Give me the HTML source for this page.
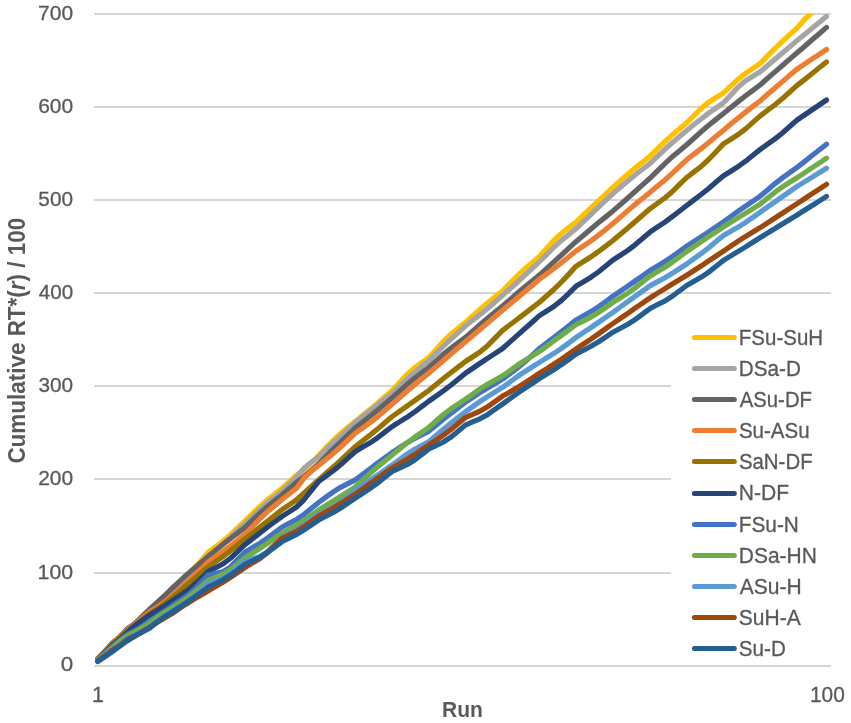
<!DOCTYPE html><html><head><meta charset="utf-8"><style>
html,body{margin:0;padding:0;background:#fff;overflow:hidden;}
svg{display:block;filter:blur(0.35px);}
text{font-family:"Liberation Sans",sans-serif;fill:#595959;}
.r{stroke:#595959;stroke-width:0.3px;}
</style></head><body>
<svg width="851" height="723" viewBox="0 0 851 723">
<defs><clipPath id="pc"><rect x="90" y="13.6" width="745" height="660"/></clipPath></defs>

<line x1="94" x2="831" y1="666" y2="666" stroke="#D6D6D6" stroke-width="2"/>
<line x1="94" x2="831" y1="573" y2="573" stroke="#D6D6D6" stroke-width="2"/>
<line x1="94" x2="831" y1="479" y2="479" stroke="#D6D6D6" stroke-width="2"/>
<line x1="94" x2="831" y1="386" y2="386" stroke="#D6D6D6" stroke-width="2"/>
<line x1="94" x2="831" y1="293" y2="293" stroke="#D6D6D6" stroke-width="2"/>
<line x1="94" x2="831" y1="200" y2="200" stroke="#D6D6D6" stroke-width="2"/>
<line x1="94" x2="831" y1="107" y2="107" stroke="#D6D6D6" stroke-width="2"/>
<line x1="94" x2="831" y1="14" y2="14" stroke="#D6D6D6" stroke-width="2"/>
<text x="60.70" y="671.09" font-size="20.92" class="r" textLength="12.46" lengthAdjust="spacingAndGlyphs">0</text>
<text x="37.60" y="578.89" font-size="20.92" class="r" textLength="35.52" lengthAdjust="spacingAndGlyphs">100</text>
<text x="38.15" y="484.89" font-size="20.92" class="r" textLength="34.95" lengthAdjust="spacingAndGlyphs">200</text>
<text x="38.42" y="391.89" font-size="20.92" class="r" textLength="34.68" lengthAdjust="spacingAndGlyphs">300</text>
<text x="38.74" y="298.89" font-size="20.92" class="r" textLength="34.36" lengthAdjust="spacingAndGlyphs">400</text>
<text x="38.37" y="205.89" font-size="20.92" class="r" textLength="34.73" lengthAdjust="spacingAndGlyphs">500</text>
<text x="38.15" y="112.89" font-size="20.92" class="r" textLength="34.95" lengthAdjust="spacingAndGlyphs">600</text>
<text x="38.10" y="19.89" font-size="20.92" class="r" textLength="35.01" lengthAdjust="spacingAndGlyphs">700</text>
<text x="92.09" y="701.59" font-size="21.20" class="r" textLength="11.96" lengthAdjust="spacingAndGlyphs">1</text>
<text x="809.93" y="701.79" font-size="21.20" class="r" textLength="34.87" lengthAdjust="spacingAndGlyphs">100</text>
<text x="441.98" y="716.80" font-size="22.55" font-weight="bold" textLength="40.81" lengthAdjust="spacingAndGlyphs">Run</text>
<g transform="translate(25.40,462.7) rotate(-90)"><text x="-0.90" y="0" font-size="23.85" font-weight="bold" textLength="245.80" lengthAdjust="spacingAndGlyphs">Cumulative RT*(<tspan font-style="italic">r</tspan>) / 100</text></g>
<g clip-path="url(#pc)" fill="none" stroke-width="5.2" stroke-linejoin="round" stroke-linecap="round">
<polyline stroke="#FFC000" points="97.7,659.0 105.1,651.5 112.4,644.0 119.8,637.5 127.1,630.5 134.5,624.5 141.9,617.8 149.2,611.0 156.6,604.5 164.0,598.2 171.3,592.0 178.7,584.8 186.0,577.6 193.4,569.7 200.8,561.0 208.1,552.3 215.5,546.8 222.9,541.3 230.2,535.0 237.6,528.0 244.9,521.0 252.3,513.8 259.7,506.6 267.0,500.1 274.4,494.4 281.8,488.6 289.1,482.0 296.5,475.3 303.8,469.7 311.2,462.8 318.6,455.5 325.9,447.9 333.3,440.3 340.6,433.4 348.0,427.3 355.4,421.2 362.7,415.3 370.1,409.4 377.5,403.2 384.8,396.8 392.2,390.4 399.5,382.5 406.9,374.6 414.3,368.0 421.6,362.7 429.0,357.5 436.4,349.3 443.7,341.1 451.1,334.0 458.4,328.1 465.8,322.1 473.2,315.5 480.5,308.9 487.9,302.7 495.2,296.8 502.6,290.9 510.0,283.4 517.3,275.9 524.7,269.0 532.1,262.7 539.4,256.4 546.8,248.3 554.1,240.2 561.5,233.3 568.9,227.6 576.2,222.0 583.6,215.0 591.0,208.0 598.3,201.1 605.7,194.2 613.0,187.3 620.4,180.8 627.8,174.3 635.1,168.1 642.5,162.2 649.9,156.3 657.2,149.1 664.6,142.0 671.9,135.3 679.3,129.0 686.7,122.8 694.0,115.5 701.4,108.2 708.7,102.2 716.1,97.5 723.5,92.9 730.8,86.1 738.2,79.2 745.6,73.3 752.9,68.4 760.3,63.4 767.6,55.9 775.0,48.4 782.4,41.4 789.7,34.7 797.1,28.0 804.5,19.5 811.8,12.5 819.2,6.0 826.5,0.0"/>
<polyline stroke="#A5A5A5" points="97.7,659.0 105.1,651.5 112.4,643.5 119.8,637.2 127.1,630.0 134.5,624.5 141.9,617.5 149.2,610.5 156.6,604.0 164.0,597.7 171.3,591.5 178.7,584.5 186.0,577.5 193.4,570.4 200.8,563.2 208.1,556.0 215.5,550.0 222.9,544.0 230.2,537.6 237.6,530.8 244.9,524.0 252.3,516.8 259.7,509.6 267.0,503.1 274.4,497.3 281.8,491.5 289.1,484.3 296.5,477.1 303.8,468.4 311.2,462.3 318.6,457.0 325.9,450.0 333.3,443.0 340.6,436.1 348.0,429.2 355.4,422.4 362.7,416.6 370.1,410.8 377.5,405.0 384.8,399.1 392.2,393.3 399.5,386.2 406.9,379.1 414.3,372.5 421.6,366.4 429.0,360.4 436.4,353.2 443.7,346.0 451.1,339.0 458.4,332.3 465.8,325.5 473.2,319.9 480.5,314.3 487.9,308.3 495.2,301.8 502.6,295.4 510.0,288.8 517.3,282.2 524.7,275.4 532.1,268.5 539.4,261.6 546.8,254.3 554.1,247.0 561.5,240.4 568.9,234.5 576.2,228.5 583.6,221.4 591.0,214.3 598.3,207.3 605.7,200.4 613.0,193.5 620.4,187.3 627.8,181.0 635.1,175.0 642.5,169.3 649.9,163.6 657.2,156.6 664.6,149.6 671.9,143.0 679.3,136.7 686.7,130.5 694.0,124.6 701.4,118.7 708.7,113.1 716.1,108.0 723.5,102.8 730.8,94.9 738.2,87.0 745.6,80.8 752.9,76.3 760.3,71.8 767.6,65.5 775.0,59.2 782.4,53.0 789.7,46.7 797.1,40.5 804.5,34.5 811.8,28.4 819.2,22.4 826.5,16.3"/>
<polyline stroke="#636363" points="97.7,658.5 105.1,651.0 112.4,643.0 119.8,637.0 127.1,629.0 134.5,623.8 141.9,616.6 149.2,609.5 156.6,603.0 164.0,596.1 171.3,589.0 178.7,582.2 186.0,575.4 193.4,568.9 200.8,562.8 208.1,556.6 215.5,550.6 222.9,544.5 230.2,538.7 237.6,533.1 244.9,527.5 252.3,520.5 259.7,513.5 267.0,507.0 274.4,500.9 281.8,494.9 289.1,488.6 296.5,482.3 303.8,476.8 311.2,470.5 318.6,464.0 325.9,456.6 333.3,449.2 340.6,442.0 348.0,434.9 355.4,427.8 362.7,422.0 370.1,416.2 377.5,410.2 384.8,404.0 392.2,397.8 399.5,391.2 406.9,384.6 414.3,378.5 421.6,372.8 429.0,367.2 436.4,360.6 443.7,354.0 451.1,348.0 458.4,342.5 465.8,337.1 473.2,330.7 480.5,324.3 487.9,318.1 495.2,312.0 502.6,306.0 510.0,299.6 517.3,293.2 524.7,287.0 532.1,281.1 539.4,275.1 546.8,268.4 554.1,261.7 561.5,255.0 568.9,248.2 576.2,241.4 583.6,235.2 591.0,228.9 598.3,222.8 605.7,216.9 613.0,210.9 620.4,204.5 627.8,198.0 635.1,191.5 642.5,184.9 649.9,178.3 657.2,171.1 664.6,163.8 671.9,157.1 679.3,151.0 686.7,144.8 694.0,138.2 701.4,131.5 708.7,125.3 716.1,119.4 723.5,113.5 730.8,107.5 738.2,101.6 745.6,95.8 752.9,90.3 760.3,84.7 767.6,78.3 775.0,71.9 782.4,65.5 789.7,59.1 797.1,52.7 804.5,46.4 811.8,40.0 819.2,33.7 826.5,27.4"/>
<polyline stroke="#ED7D31" points="97.7,659.0 105.1,651.5 112.4,643.0 119.8,636.8 127.1,630.0 134.5,624.5 141.9,618.2 149.2,612.0 156.6,607.5 164.0,602.3 171.3,596.5 178.7,589.9 186.0,583.3 193.4,576.4 200.8,569.2 208.1,562.0 215.5,556.8 222.9,551.6 230.2,546.1 237.6,540.2 244.9,534.3 252.3,526.7 259.7,519.0 267.0,512.1 274.4,505.9 281.8,499.7 289.1,494.0 296.5,488.3 303.8,478.4 311.2,471.3 318.6,465.5 325.9,459.5 333.3,453.4 340.6,447.0 348.0,440.1 355.4,433.2 362.7,428.0 370.1,422.7 377.5,416.9 384.8,410.5 392.2,404.1 399.5,397.7 406.9,391.3 414.3,385.1 421.6,379.0 429.0,373.0 436.4,366.6 443.7,360.2 451.1,353.9 458.4,347.7 465.8,341.5 473.2,335.3 480.5,329.1 487.9,322.8 495.2,316.5 502.6,310.2 510.0,304.1 517.3,298.0 524.7,291.8 532.1,285.5 539.4,279.2 546.8,273.8 554.1,268.4 561.5,262.7 568.9,256.8 576.2,250.8 583.6,245.8 591.0,240.9 598.3,235.4 605.7,229.5 613.0,223.5 620.4,217.1 627.8,210.6 635.1,204.4 642.5,198.5 649.9,192.5 657.2,186.3 664.6,180.2 671.9,173.6 679.3,166.7 686.7,159.8 694.0,154.1 701.4,148.4 708.7,142.4 716.1,136.3 723.5,130.2 730.8,124.1 738.2,118.0 745.6,112.1 752.9,106.4 760.3,100.7 767.6,94.3 775.0,88.0 782.4,81.6 789.7,75.3 797.1,69.0 804.5,64.1 811.8,59.2 819.2,54.4 826.5,49.5"/>
<polyline stroke="#997300" points="97.7,659.5 105.1,652.0 112.4,644.0 119.8,638.0 127.1,631.0 134.5,625.5 141.9,619.8 149.2,614.0 156.6,609.5 164.0,604.3 171.3,598.5 178.7,592.1 186.0,585.7 193.4,579.4 200.8,573.1 208.1,566.8 215.5,561.7 222.9,556.6 230.2,551.0 237.6,545.0 244.9,539.0 252.3,533.2 259.7,527.4 267.0,521.6 274.4,515.7 281.8,509.9 289.1,504.9 296.5,499.8 303.8,493.3 311.2,486.5 318.6,480.0 325.9,473.5 333.3,467.0 340.6,460.3 348.0,453.4 355.4,446.5 362.7,440.8 370.1,435.1 377.5,429.1 384.8,422.8 392.2,416.5 399.5,411.3 406.9,406.2 414.3,400.9 421.6,395.6 429.0,390.3 436.4,384.3 443.7,378.3 451.1,372.5 458.4,366.9 465.8,361.3 473.2,356.5 480.5,351.6 487.9,345.4 495.2,337.9 502.6,330.4 510.0,324.8 517.3,319.2 524.7,313.6 532.1,307.9 539.4,302.2 546.8,295.7 554.1,289.2 561.5,282.0 568.9,274.1 576.2,266.1 583.6,261.5 591.0,256.8 598.3,251.7 605.7,246.1 613.0,240.5 620.4,234.3 627.8,228.1 635.1,221.8 642.5,215.3 649.9,208.8 657.2,203.5 664.6,198.2 671.9,192.0 679.3,184.7 686.7,177.5 694.0,171.9 701.4,166.2 708.7,159.5 716.1,151.7 723.5,143.9 730.8,139.2 738.2,134.5 745.6,128.9 752.9,122.4 760.3,115.9 767.6,110.3 775.0,104.7 782.4,98.6 789.7,92.0 797.1,85.4 804.5,79.6 811.8,73.7 819.2,67.8 826.5,62.0"/>
<polyline stroke="#264478" points="97.7,660.0 105.1,653.0 112.4,645.0 119.8,639.2 127.1,632.7 134.5,625.8 141.9,620.6 149.2,615.5 156.6,610.8 164.0,606.2 171.3,601.5 178.7,596.5 186.0,591.5 193.4,585.5 200.8,578.6 208.1,571.6 215.5,567.8 222.9,563.9 230.2,558.5 237.6,551.6 244.9,544.7 252.3,538.9 259.7,533.1 267.0,527.5 274.4,522.0 281.8,516.6 289.1,511.8 296.5,507.0 303.8,500.0 311.2,490.7 318.6,481.5 325.9,476.1 333.3,470.7 340.6,464.7 348.0,458.1 355.4,451.5 362.7,447.1 370.1,442.8 377.5,437.8 384.8,432.1 392.2,426.5 399.5,421.9 406.9,417.3 414.3,412.2 421.6,406.6 429.0,401.0 436.4,395.8 443.7,390.6 451.1,385.0 458.4,379.0 465.8,373.0 473.2,368.0 480.5,363.0 487.9,358.1 495.2,353.3 502.6,348.5 510.0,341.9 517.3,335.4 524.7,328.8 532.1,322.2 539.4,315.6 546.8,311.0 554.1,306.3 561.5,300.4 568.9,293.3 576.2,286.1 583.6,281.7 591.0,277.2 598.3,272.0 605.7,266.0 613.0,260.0 620.4,255.2 627.8,250.3 635.1,244.8 642.5,238.5 649.9,232.2 657.2,227.2 664.6,222.3 671.9,216.9 679.3,211.2 686.7,205.5 694.0,199.9 701.4,194.3 708.7,188.4 716.1,182.1 723.5,175.8 730.8,171.2 738.2,166.5 745.6,161.2 752.9,155.3 760.3,149.4 767.6,144.2 775.0,138.9 782.4,133.0 789.7,126.5 797.1,120.0 804.5,115.0 811.8,110.0 819.2,105.0 826.5,100.0"/>
<polyline stroke="#4472C4" points="97.7,660.0 105.1,653.5 112.4,646.0 119.8,640.2 127.1,634.5 134.5,631.0 141.9,626.5 149.2,622.0 156.6,616.5 164.0,611.4 171.3,606.5 178.7,601.5 186.0,596.5 193.4,590.2 200.8,582.6 208.1,575.0 215.5,573.4 222.9,571.8 230.2,567.2 237.6,559.7 244.9,552.2 252.3,547.8 259.7,543.4 267.0,538.4 274.4,532.9 281.8,527.3 289.1,523.4 296.5,519.5 303.8,514.6 311.2,508.5 318.6,502.5 325.9,497.2 333.3,491.9 340.6,487.3 348.0,483.6 355.4,479.9 362.7,474.3 370.1,468.7 377.5,463.2 384.8,457.9 392.2,452.5 399.5,447.7 406.9,442.9 414.3,438.6 421.6,434.9 429.0,431.1 436.4,425.1 443.7,419.0 451.1,413.2 458.4,407.6 465.8,402.0 473.2,397.1 480.5,392.2 487.9,387.7 495.2,383.4 502.6,379.1 510.0,373.7 517.3,368.2 524.7,362.1 532.1,355.3 539.4,348.5 546.8,342.9 554.1,337.3 561.5,331.6 568.9,325.7 576.2,319.9 583.6,315.7 591.0,311.6 598.3,306.8 605.7,301.5 613.0,296.1 620.4,291.1 627.8,286.1 635.1,281.0 642.5,275.8 649.9,270.6 657.2,266.2 664.6,261.7 671.9,256.8 679.3,251.5 686.7,246.1 694.0,241.4 701.4,236.7 708.7,231.9 716.1,226.8 723.5,221.8 730.8,216.5 738.2,211.2 745.6,206.1 752.9,201.1 760.3,196.1 767.6,189.9 775.0,183.6 782.4,177.9 789.7,172.6 797.1,167.4 804.5,161.6 811.8,155.8 819.2,150.0 826.5,144.2"/>
<polyline stroke="#70AD47" points="97.7,660.0 105.1,654.0 112.4,647.7 119.8,641.2 127.1,636.0 134.5,632.0 141.9,627.8 149.2,623.5 156.6,617.7 164.0,612.7 171.3,608.5 178.7,603.6 186.0,598.7 193.4,593.0 200.8,586.7 208.1,580.4 215.5,577.3 222.9,574.2 230.2,569.7 237.6,563.8 244.9,557.9 252.3,553.2 259.7,548.5 267.0,543.6 274.4,538.3 281.8,533.1 289.1,529.2 296.5,525.3 303.8,520.6 311.2,515.3 318.6,510.0 325.9,505.5 333.3,501.0 340.6,496.4 348.0,491.7 355.4,487.0 362.7,480.2 370.1,473.4 377.5,467.0 384.8,461.0 392.2,455.0 399.5,449.0 406.9,443.0 414.3,437.5 421.6,432.4 429.0,427.3 436.4,420.8 443.7,414.3 451.1,408.7 458.4,403.8 465.8,399.0 473.2,393.8 480.5,388.6 487.9,384.0 495.2,379.9 502.6,375.8 510.0,370.6 517.3,365.3 524.7,360.5 532.1,356.0 539.4,351.6 546.8,346.2 554.1,340.7 561.5,335.3 568.9,329.9 576.2,324.5 583.6,320.8 591.0,317.1 598.3,312.7 605.7,307.5 613.0,302.3 620.4,297.7 627.8,293.1 635.1,287.9 642.5,282.0 649.9,276.2 657.2,271.8 664.6,267.5 671.9,262.5 679.3,257.0 686.7,251.5 694.0,246.6 701.4,241.7 708.7,236.7 716.1,231.8 723.5,226.8 730.8,222.2 738.2,217.6 745.6,213.1 752.9,208.6 760.3,204.1 767.6,198.1 775.0,192.2 782.4,186.9 789.7,182.3 797.1,177.7 804.5,172.8 811.8,167.9 819.2,163.1 826.5,158.2"/>
<polyline stroke="#5B9BD5" points="97.7,660.5 105.1,655.0 112.4,649.0 119.8,645.0 127.1,638.0 134.5,635.5 141.9,631.2 149.2,627.0 156.6,621.5 164.0,616.4 171.3,611.5 178.7,607.1 186.0,602.7 193.4,597.2 200.8,590.5 208.1,583.8 215.5,581.1 222.9,578.4 230.2,573.8 237.6,567.5 244.9,561.2 252.3,558.9 259.7,556.6 267.0,552.0 274.4,545.0 281.8,538.0 289.1,533.8 296.5,529.6 303.8,524.9 311.2,519.7 318.6,514.5 325.9,510.7 333.3,506.9 340.6,502.0 348.0,495.9 355.4,489.9 362.7,485.0 370.1,480.1 377.5,475.2 384.8,470.1 392.2,465.0 399.5,459.6 406.9,454.2 414.3,449.5 421.6,445.5 429.0,441.5 436.4,435.2 443.7,428.9 451.1,422.9 458.4,417.2 465.8,411.5 473.2,406.3 480.5,401.2 487.9,396.4 495.2,391.9 502.6,387.4 510.0,382.0 517.3,376.7 524.7,371.7 532.1,367.0 539.4,362.4 546.8,357.8 554.1,353.3 561.5,348.3 568.9,342.8 576.2,337.4 583.6,332.4 591.0,327.5 598.3,322.5 605.7,317.4 613.0,312.3 620.4,307.0 627.8,301.7 635.1,296.4 642.5,291.1 649.9,285.9 657.2,281.9 664.6,278.0 671.9,273.6 679.3,268.8 686.7,264.0 694.0,258.7 701.4,253.4 708.7,247.7 716.1,241.6 723.5,235.5 730.8,231.3 738.2,227.1 745.6,222.4 752.9,217.3 760.3,212.1 767.6,206.9 775.0,201.8 782.4,196.6 789.7,191.5 797.1,186.4 804.5,181.9 811.8,177.4 819.2,172.8 826.5,168.3"/>
<polyline stroke="#9E480E" points="97.7,661.0 105.1,655.5 112.4,650.0 119.8,645.5 127.1,639.5 134.5,636.5 141.9,632.0 149.2,627.5 156.6,622.7 164.0,618.2 171.3,614.0 178.7,609.1 186.0,604.2 193.4,599.6 200.8,595.3 208.1,591.0 215.5,586.6 222.9,582.2 230.2,577.5 237.6,572.5 244.9,567.5 252.3,563.1 259.7,558.7 267.0,552.9 274.4,545.6 281.8,538.4 289.1,534.8 296.5,531.3 303.8,526.8 311.2,521.4 318.6,516.0 325.9,512.0 333.3,508.0 340.6,503.6 348.0,498.8 355.4,494.0 362.7,488.8 370.1,483.7 377.5,478.5 384.8,473.2 392.2,468.0 399.5,463.7 406.9,459.4 414.3,454.8 421.6,449.8 429.0,444.8 436.4,439.8 443.7,434.9 451.1,429.4 458.4,423.3 465.8,417.3 473.2,414.1 480.5,410.8 487.9,406.6 495.2,401.3 502.6,396.1 510.0,391.9 517.3,387.6 524.7,383.0 532.1,378.1 539.4,373.2 546.8,368.6 554.1,363.9 561.5,359.1 568.9,354.0 576.2,349.0 583.6,344.0 591.0,339.1 598.3,334.0 605.7,328.7 613.0,323.5 620.4,318.4 627.8,313.3 635.1,308.2 642.5,303.1 649.9,298.0 657.2,293.4 664.6,288.9 671.9,284.3 679.3,279.8 686.7,275.2 694.0,270.5 701.4,265.8 708.7,260.9 716.1,256.0 723.5,251.1 730.8,246.1 738.2,241.1 745.6,236.4 752.9,232.0 760.3,227.6 767.6,222.8 775.0,218.0 782.4,213.2 789.7,208.4 797.1,203.6 804.5,198.8 811.8,193.9 819.2,189.1 826.5,184.3"/>
<polyline stroke="#255E91" points="97.7,661.5 105.1,656.5 112.4,651.5 119.8,646.2 127.1,641.0 134.5,636.0 141.9,632.2 149.2,628.5 156.6,622.3 164.0,617.0 171.3,612.5 178.7,607.7 186.0,602.9 193.4,597.8 200.8,592.5 208.1,587.1 215.5,583.5 222.9,579.8 230.2,575.3 237.6,569.8 244.9,564.4 252.3,560.8 259.7,557.3 267.0,552.8 274.4,547.3 281.8,541.8 289.1,538.1 296.5,534.4 303.8,530.1 311.2,525.1 318.6,520.0 325.9,516.2 333.3,512.4 340.6,508.0 348.0,503.1 355.4,498.2 362.7,493.3 370.1,488.4 377.5,483.1 384.8,477.3 392.2,471.5 399.5,468.1 406.9,464.7 414.3,460.2 421.6,454.6 429.0,449.0 436.4,445.4 443.7,441.8 451.1,437.0 458.4,430.9 465.8,424.8 473.2,421.7 480.5,418.6 487.9,414.4 495.2,409.2 502.6,404.0 510.0,398.7 517.3,393.4 524.7,388.4 532.1,383.5 539.4,378.6 546.8,374.1 554.1,369.6 561.5,364.7 568.9,359.4 576.2,354.0 583.6,350.2 591.0,346.3 598.3,342.0 605.7,337.1 613.0,332.2 620.4,328.2 627.8,324.3 635.1,319.6 642.5,314.1 649.9,308.6 657.2,304.8 664.6,301.1 671.9,296.5 679.3,291.0 686.7,285.5 694.0,281.3 701.4,277.1 708.7,272.1 716.1,266.2 723.5,260.4 730.8,255.9 738.2,251.4 745.6,246.9 752.9,242.2 760.3,237.5 767.6,233.0 775.0,228.5 782.4,224.0 789.7,219.5 797.1,215.0 804.5,210.3 811.8,205.7 819.2,201.1 826.5,196.4"/>
</g>
<rect x="671" y="305" width="180" height="355" fill="#fff"/>
<line x1="694.4" x2="734.3" y1="337.50" y2="337.50" stroke="#FFC000" stroke-width="5" stroke-linecap="round"/>
<text x="738.81" y="344.90" font-size="22.11" class="r" textLength="84.28" lengthAdjust="spacingAndGlyphs">FSu-SuH</text>
<line x1="694.4" x2="734.3" y1="368.50" y2="368.50" stroke="#A5A5A5" stroke-width="5" stroke-linecap="round"/>
<text x="738.79" y="376.00" font-size="22.11" class="r" textLength="62.21" lengthAdjust="spacingAndGlyphs">DSa-D</text>
<line x1="694.4" x2="734.3" y1="399.50" y2="399.50" stroke="#636363" stroke-width="5" stroke-linecap="round"/>
<text x="739.75" y="407.10" font-size="22.11" class="r" textLength="72.19" lengthAdjust="spacingAndGlyphs">ASu-DF</text>
<line x1="694.4" x2="734.3" y1="430.50" y2="430.50" stroke="#ED7D31" stroke-width="5" stroke-linecap="round"/>
<text x="738.88" y="438.20" font-size="22.11" class="r" textLength="70.79" lengthAdjust="spacingAndGlyphs">Su-ASu</text>
<line x1="694.4" x2="734.3" y1="461.50" y2="461.50" stroke="#997300" stroke-width="5" stroke-linecap="round"/>
<text x="738.88" y="469.30" font-size="22.11" class="r" textLength="73.76" lengthAdjust="spacingAndGlyphs">SaN-DF</text>
<line x1="694.4" x2="734.3" y1="493.50" y2="493.50" stroke="#264478" stroke-width="5" stroke-linecap="round"/>
<text x="738.76" y="500.40" font-size="22.11" class="r" textLength="50.40" lengthAdjust="spacingAndGlyphs">N-DF</text>
<line x1="694.4" x2="734.3" y1="524.50" y2="524.50" stroke="#4472C4" stroke-width="5" stroke-linecap="round"/>
<text x="738.78" y="531.50" font-size="22.11" class="r" textLength="60.12" lengthAdjust="spacingAndGlyphs">FSu-N</text>
<line x1="694.4" x2="734.3" y1="555.50" y2="555.50" stroke="#70AD47" stroke-width="5" stroke-linecap="round"/>
<text x="738.77" y="562.60" font-size="22.11" class="r" textLength="78.17" lengthAdjust="spacingAndGlyphs">DSa-HN</text>
<line x1="694.4" x2="734.3" y1="586.50" y2="586.50" stroke="#5B9BD5" stroke-width="5" stroke-linecap="round"/>
<text x="739.75" y="593.70" font-size="22.11" class="r" textLength="62.00" lengthAdjust="spacingAndGlyphs">ASu-H</text>
<line x1="694.4" x2="734.3" y1="617.50" y2="617.50" stroke="#9E480E" stroke-width="5" stroke-linecap="round"/>
<text x="738.85" y="624.80" font-size="22.11" class="r" textLength="61.91" lengthAdjust="spacingAndGlyphs">SuH-A</text>
<line x1="694.4" x2="734.3" y1="648.50" y2="648.50" stroke="#255E91" stroke-width="5" stroke-linecap="round"/>
<text x="738.87" y="655.90" font-size="22.11" class="r" textLength="46.92" lengthAdjust="spacingAndGlyphs">Su-D</text>
</svg></body></html>
